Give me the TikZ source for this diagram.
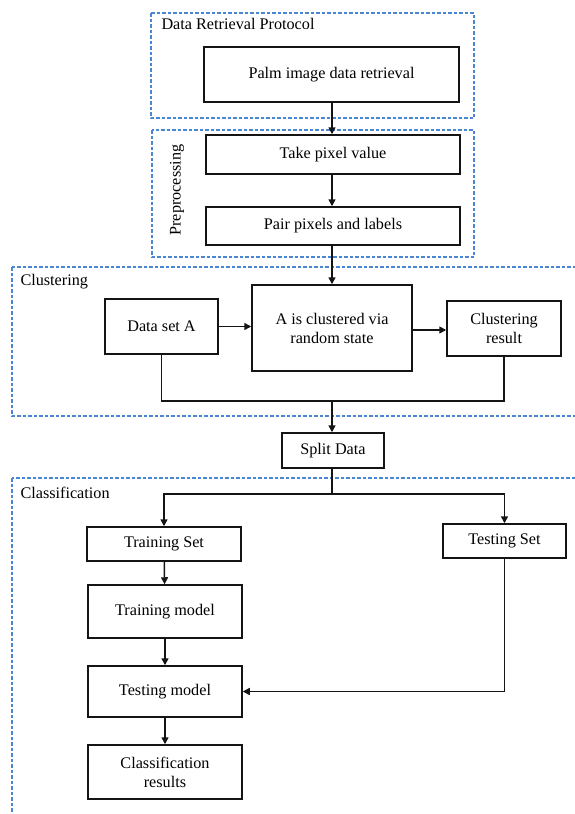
\documentclass[tikz,border=0pt]{standalone}
\usepackage{fontspec}
\setmainfont{Liberation Serif}
\usetikzlibrary{arrows.meta}
\definecolor{groupblue}{HTML}{4A86D4}
\definecolor{ink}{HTML}{141414}

\begin{document}
\begin{tikzpicture}[x=1pt,y=-1pt,font=\fontsize{16.2}{19}\selectfont,
  box/.style={draw=ink,line width=1.5pt,align=center,inner sep=2pt},
  group/.style={draw=groupblue,line width=1.1pt,dash pattern=on 3.5pt off 2pt},
  flow/.style={ink,line width=1.5pt,-{Triangle[width=7pt,length=7pt]}},
  bus/.style={ink,line width=1.5pt}]
  \useasboundingbox (0,0) rectangle (575,814);
  % dashed groups
  \draw[group] (151,13) rectangle (474,118);
  \draw[group] (152,130) rectangle (474,257);
  \draw[group] (12,267) rectangle (585,416);
  \draw[group] (12,478) rectangle (585,830);
  \node[anchor=west] (lbRetr) at (158,24) {Data Retrieval Protocol};
  \node[rotate=90] (lbPre) at (177,190) {Preprocessing};
  \node[anchor=west] (lbClu) at (17,282) {Clustering};
  \node[anchor=west] (lbCla) at (17,493) {Classification};
  % boxes
  \node[box,minimum width=255pt,minimum height=55pt] (palm) at (331.5,74.5) {Palm image data retrieval};
  \node[box,minimum width=254pt,minimum height=39pt] (pixval) at (333,154.5) {Take pixel value};
  \node[box,minimum width=254pt,minimum height=38pt] (pair) at (333,226) {Pair pixels and labels};
  \node[box,minimum width=113pt,minimum height=55pt] (dsA) at (161.5,326.5) {Data set A};
  \node[box,minimum width=160pt,minimum height=86pt] (clus) at (332,328) {A is clustered via\\random state};
  \node[box,minimum width=114pt,minimum height=55pt] (cres) at (504,328.5) {Clustering\\result};
  \node[box,minimum width=102pt,minimum height=35pt] (split) at (333,450.5) {Split Data};
  \node[box,minimum width=154pt,minimum height=34pt] (trset) at (164,544) {Training Set};
  \node[box,minimum width=123pt,minimum height=34pt] (teset) at (504.5,541) {Testing Set};
  \node[box,minimum width=154pt,minimum height=53pt] (trmod) at (165,611.5) {Training model};
  \node[box,minimum width=154pt,minimum height=51pt] (temod) at (165,691.5) {Testing model};
  \node[box,minimum width=154pt,minimum height=54pt] (cresu) at (165,772) {Classification\\results};
  \coordinate (busC) at (332,401);
  \coordinate (fork) at (332,494);
  % connectors
  \draw[flow] (palm.south -| 332,0) -- (pixval.north -| 332,0);
  \draw[flow] (pixval.south -| 332,0) -- (pair.north -| 332,0);
  \draw[flow] (pair.south -| 332,0) -- (clus.north -| 332,0);
  \draw[flow] (dsA.east) -- (dsA.east -| clus.west);
  \draw[flow] (clus.east |- 0,330) -- (cres.west |- 0,330);
  \draw[bus] (dsA.south) |- (busC) -| (cres.south);
  \draw[flow] (busC) -- (split.north -| busC);
  \draw[bus] (split.south -| fork) -- (fork);
  \draw[flow] (fork) -| (trset.north);
  \draw[flow] (fork) -| (teset.north);
  \draw[flow] (trset) -- (trmod);
  \draw[flow] (trmod) -- (temod);
  \draw[flow] (temod) -- (cresu);
  \draw[flow] (teset.south) |- (temod.east);
\end{tikzpicture}
\end{document}
